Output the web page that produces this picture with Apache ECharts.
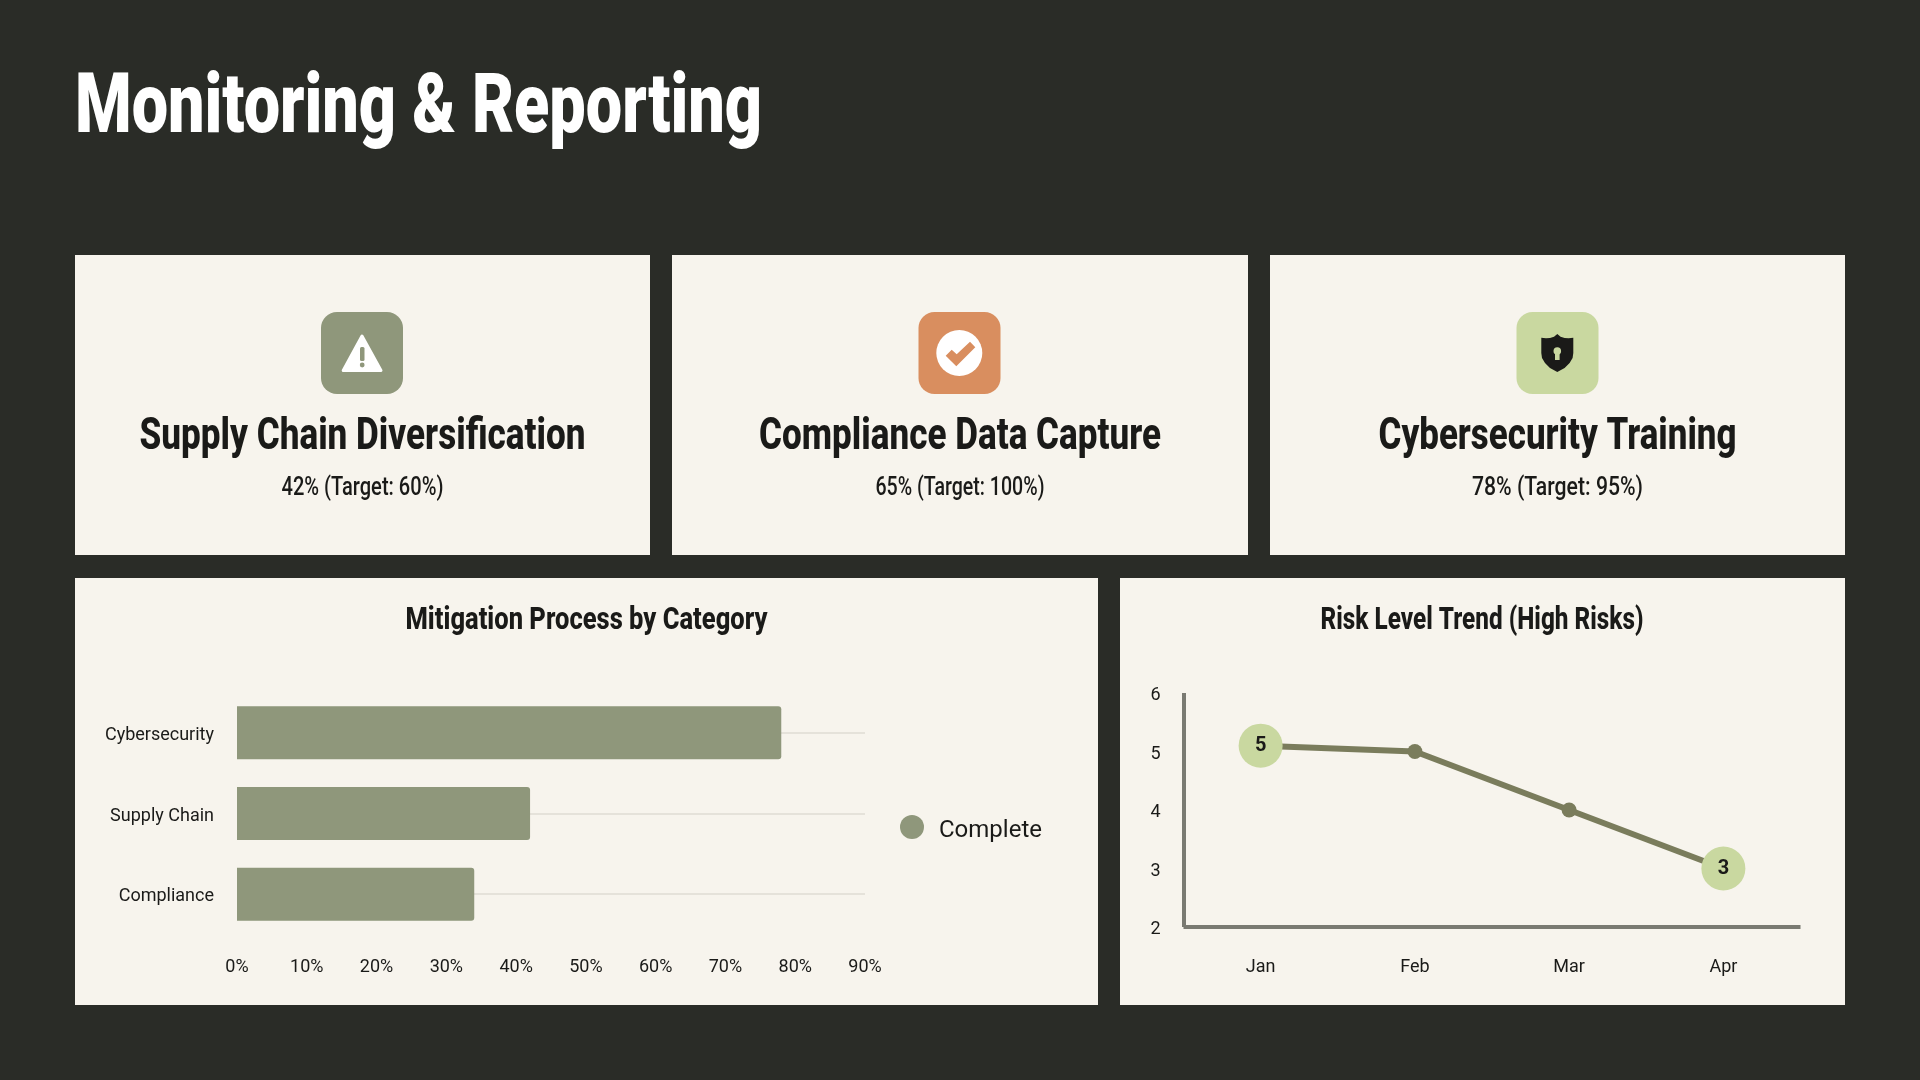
<!DOCTYPE html>
<html>
<head>
<meta charset="utf-8">
<style>html,body{margin:0;padding:0;background:#2a2c27;}#c{width:1920px;height:1080px;}</style>
<script src="https://cdn.jsdelivr.net/npm/echarts@6/dist/echarts.min.js"></script>
</head>
<body>
<div id="c"></div>
<script>
const pageTitle = 'Monitoring & Reporting';
const cardTitles = ['Supply Chain Diversification', 'Compliance Data Capture', 'Cybersecurity Training'];
const cardNotes = ['42% (Target: 60%)', '65% (Target: 100%)', '78% (Target: 95%)'];
const barTitle = 'Mitigation Process by Category';
const barCategories = ['Compliance', 'Supply Chain', 'Cybersecurity'];
const barValues = [34, 42, 78];
const barTicks = [0, 90, 10];
const barSeriesName = 'Complete';
const lineTitle = 'Risk Level Trend (High Risks)';
const lineCategories = ['Jan', 'Feb', 'Mar', 'Apr'];
const lineValues = [5.1, 5, 4, 3];
const lineBadges = ['5', '', '', '3'];

const BG = '#2a2c27', CARD = '#f7f4ed', SAGE = '#8f977b', ORANGE = '#d98e5f', LIME = '#c9d8a0', INK = '#1a1a18', OLIVE = '#7a7c5c', AXIS = '#7a7a72';
const HEAD = 'Roboto', BODY = 'Roboto';

const ctx = document.createElement('canvas').getContext('2d');
function fitText(text, cx, cy, width, size, weight, fill, align) {
  ctx.font = weight + ' ' + size + 'px ' + HEAD;
  const sx = width / ctx.measureText(text).width;
  return {
    type: 'text', x: cx, y: cy, scaleX: sx, scaleY: 1, z: 10,
    style: { text, fill, fontFamily: HEAD, fontSize: size, fontWeight: weight, textAlign: align || 'center', textVerticalAlign: 'middle' }
  };
}
function panel(x, y, w, h) {
  return { type: 'rect', shape: { x, y, width: w, height: h }, style: { fill: CARD }, z: 0, silent: true };
}
function iconBox(x, fill) {
  return { type: 'rect', shape: { x, y: 312, width: 82, height: 82, r: 16 }, style: { fill }, z: 5 };
}

const graphics = [
  panel(75, 255, 575, 300), panel(672, 255, 576, 300), panel(1270, 255, 575, 300),
  panel(75, 578, 1023, 427), panel(1120, 578, 725, 427),
  fitText(pageTitle, 75, 111, 687, 84, 900, '#ffffff', 'left'),
  iconBox(321, SAGE), iconBox(918.5, ORANGE), iconBox(1516.5, LIME),
  // warning triangle
  { type: 'polygon', shape: { points: [[362, 336], [381, 370.5], [343.2, 370.5]] }, style: { fill: '#fff', lineJoin: 'round', stroke: '#fff', lineWidth: 3 }, z: 6 },
  { type: 'rect', shape: { x: 360, y: 347, width: 4.5, height: 14, r: 1.5 }, style: { fill: SAGE }, z: 7 },
  { type: 'circle', shape: { cx: 362.2, cy: 365, r: 2.4 }, style: { fill: SAGE }, z: 7 },
  // check badge
  { type: 'circle', shape: { cx: 959.3, cy: 353, r: 23 }, style: { fill: '#fff' }, z: 6 },
  { type: 'polygon', shape: { points: [[945.7, 355.7], [951.7, 349.7], [956.7, 354.3], [970, 341.7], [975.3, 347.3], [956.3, 366.3]] }, style: { fill: ORANGE }, z: 7 },
  // shield
  { type: 'polygon', shape: { points: [[1557.3, 334], [1554, 336.8], [1550, 338], [1546, 338.2], [1541.3, 337.7], [1541.3, 353], [1542, 358], [1545, 363], [1550, 368], [1557.3, 372], [1564.6, 368], [1569.6, 363], [1572.6, 358], [1573.3, 353], [1573.3, 337.7], [1568.6, 338.2], [1564.6, 338], [1560.6, 336.8]] }, style: { fill: INK }, z: 6 },
  { type: 'circle', shape: { cx: 1557.3, cy: 351, r: 3.8 }, style: { fill: LIME }, z: 7 },
  { type: 'rect', shape: { x: 1555, y: 351, width: 4.6, height: 9 }, style: { fill: LIME }, z: 7 },
];
[362.5, 960, 1557.5].forEach((cx, i) => {
  const titleW = [446, 402, 358][i], noteW = [162, 169, 171][i];
  graphics.push(fitText(cardTitles[i], cx, 438, titleW, 44, 800, INK));
  graphics.push(fitText(cardNotes[i], cx, 488, noteW, 26, 500, INK));
});
graphics.push(fitText(barTitle, 586.5, 621, 362, 32, 800, INK));
graphics.push(fitText(lineTitle, 1482, 621, 323, 32, 800, INK));

const chart = echarts.init(document.getElementById('c'), null, { renderer: 'canvas', width: 1920, height: 1080 });
chart.setOption({
  backgroundColor: BG,
  animation: false,
  graphic: { elements: graphics },
  legend: {
    data: [{ name: barSeriesName, icon: 'circle' }], left: 895, top: 810,
    itemWidth: 24, itemHeight: 24, itemGap: 15, selectedMode: false,
    formatter: '{a|{name}}',
    textStyle: { rich: { a: { fontFamily: BODY, fontSize: 24, color: INK, lineHeight: 24, verticalAlign: 'top', padding: [4, 0, 0, 10] } } }
  },
  grid: [
    { left: 237, top: 692.5, width: 628, height: 242, containLabel: false },
    { left: 1183.5, top: 693, width: 617, height: 234, containLabel: false }
  ],
  xAxis: [
    { type: 'value', gridIndex: 0, min: barTicks[0], max: barTicks[1], interval: barTicks[2], splitLine: { show: false }, axisLine: { show: false }, axisTick: { show: false },
      axisLabel: { formatter: '{value}%', margin: 24, fontFamily: BODY, fontSize: 18, color: INK } },
    { type: 'category', gridIndex: 1, data: lineCategories, axisLine: { show: true, lineStyle: { color: AXIS, width: 4, cap: 'butt' } }, axisTick: { show: false },
      axisLabel: { margin: 31, fontFamily: BODY, fontSize: 18, color: INK } }
  ],
  yAxis: [
    { type: 'category', gridIndex: 0, data: barCategories, axisLine: { show: false }, axisTick: { show: false },
      splitLine: { show: true, alignWithLabel: true, lineStyle: { color: '#dfdcd3', width: 1.5 } },
      axisLabel: { margin: 23, fontFamily: BODY, fontSize: 18, color: INK, verticalAlign: 'top', lineHeight: 5 } },
    { type: 'value', gridIndex: 1, min: 2, max: 6, interval: 1, splitLine: { show: false }, axisTick: { show: false },
      axisLine: { show: true, lineStyle: { color: AXIS, width: 4, cap: 'butt' } },
      axisLabel: { margin: 23, fontFamily: BODY, fontSize: 18, color: INK, verticalAlign: 'top', lineHeight: 5 } }
  ],
  series: [
    { type: 'bar', name: barSeriesName, xAxisIndex: 0, yAxisIndex: 0, data: barValues, barWidth: 53, itemStyle: { color: SAGE, borderRadius: [0, 3, 3, 0] }, z: 3 },
    { type: 'line', xAxisIndex: 1, yAxisIndex: 1, showSymbol: true, symbol: 'circle', lineStyle: { color: OLIVE, width: 6 }, z: 4,
      data: lineValues.map((v, i) => ({
        value: v,
        symbolSize: lineBadges[i] ? 44 : 15,
        itemStyle: { color: lineBadges[i] ? LIME : OLIVE },
        label: { show: !!lineBadges[i], position: 'inside', formatter: lineBadges[i], fontFamily: HEAD, fontWeight: 700, fontSize: 20, color: INK }
      }))
    }
  ]
});
</script>
</body>
</html>
